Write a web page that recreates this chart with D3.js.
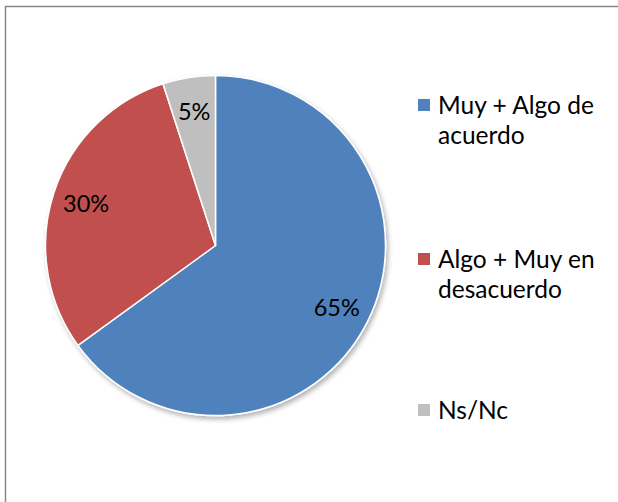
<!DOCTYPE html>
<html>
<head>
<meta charset="utf-8">
<style>
  html, body { margin: 0; padding: 0; background: #fff; overflow: hidden; }
  svg { display: block; }
  text { font-family: Lato, "Open Sans", sans-serif; fill: #000; }
</style>
<script src="https://cdnjs.cloudflare.com/ajax/libs/d3/7.8.5/d3.min.js"></script>
</head>
<body>
<div id="chart"></div>
<script>
"use strict";

// Pie data (clockwise from 12 o'clock)
var categories = ["Muy + Algo de acuerdo", "Algo + Muy en desacuerdo", "Ns/Nc"];
var legendLines = [["Muy + Algo de", "acuerdo"], ["Algo + Muy en", "desacuerdo"], ["Ns/Nc"]];
var values = [65, 30, 5];
var sliceColors = ["#4F81BD", "#C0504D", "#BFBFBF"];

(function() {
  var width = 618,
      height = 502;

  var center = { x: 215.5, y: 245.5 };
  var radius = 170;
  var labelRadius = 136;

  var svg = d3.select("#chart").append("svg")
    .attr("width", width)
    .attr("height", height);

  // Chart frame (the right and bottom sides fall outside the picture)
  svg.append("path")
    .attr("d", "M5.5," + height + "V6.5H" + width)
    .attr("fill", "none")
    .attr("stroke", "#878787")
    .attr("stroke-width", 1.5);

  var defs = svg.append("defs");
  var shadow = defs.append("filter")
    .attr("id", "pie-shadow")
    .attr("x", "-10%").attr("y", "-10%")
    .attr("width", "130%").attr("height", "130%");
  shadow.append("feDropShadow")
    .attr("dx", 2)
    .attr("dy", 3)
    .attr("stdDeviation", 2.5)
    .attr("flood-color", "#000")
    .attr("flood-opacity", 0.3);

  var data = categories.map(function(c, i) {
    return { name: c, value: values[i], color: sliceColors[i], lines: legendLines[i] };
  });

  var pie = d3.pie()
    .sort(null)
    .value(function(d) { return d.value; });

  var arc = d3.arc()
    .innerRadius(0)
    .outerRadius(radius);

  var labelArc = d3.arc()
    .innerRadius(labelRadius)
    .outerRadius(labelRadius);

  var arcs = pie(data);

  var g = svg.append("g")
    .attr("transform", "translate(" + center.x + "," + center.y + ")");

  g.append("g")
    .attr("filter", "url(#pie-shadow)")
    .selectAll("path")
    .data(arcs)
  .enter().append("path")
    .attr("d", arc)
    .attr("fill", function(d) { return d.data.color; })
    .attr("stroke", "#fff")
    .attr("stroke-width", 1.5)
    .attr("stroke-linejoin", "round");

  g.append("g")
    .selectAll("text")
    .data(arcs)
  .enter().append("text")
    .attr("transform", function(d) {
      var c = labelArc.centroid(d);
      return "translate(" + c[0] + "," + c[1] + ")";
    })
    .attr("text-anchor", "middle")
    .attr("dy", "0.36em")
    .style("font-size", "23.5px")
    .text(function(d) { return d.data.value + "%"; });

  // Legend
  var legendX = 418;
  var legendTops = [99, 253, 404];
  var lineHeight = 30;

  var items = svg.append("g")
    .selectAll("g")
    .data(data)
  .enter().append("g")
    .attr("transform", function(d, i) {
      return "translate(" + legendX + "," + legendTops[i] + ")";
    });

  items.append("rect")
    .attr("width", 12)
    .attr("height", 12)
    .attr("fill", function(d) { return d.color; });

  items.append("text")
    .attr("x", 20)
    .attr("y", 15)
    .style("font-size", "24.5px")
    .selectAll("tspan")
    .data(function(d) { return d.lines; })
  .enter().append("tspan")
    .attr("x", 20)
    .attr("dy", function(d, i) { return i === 0 ? 0 : lineHeight; })
    .text(function(d) { return d; });
})();
</script>
</body>
</html>
